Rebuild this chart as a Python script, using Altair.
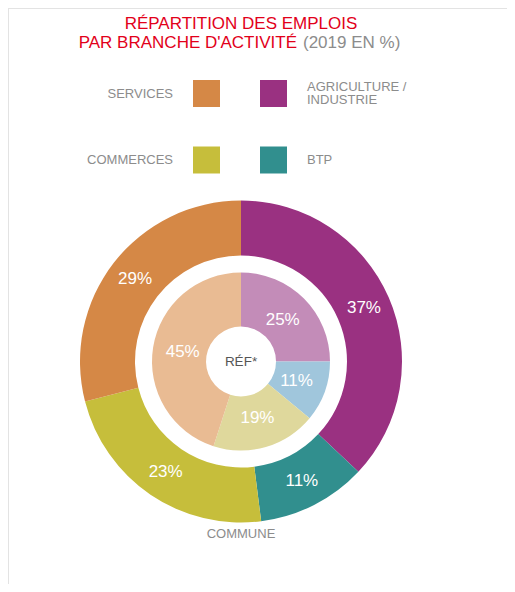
import altair as alt
import pandas as pd

# ---- data ----
categories = ["AGRICULTURE / INDUSTRIE", "BTP", "COMMERCES", "SERVICES"]
commune_values = [37, 11, 23, 29]      # outer ring
ref_values = [25, 11, 19, 45]          # inner ring (RÉF*)
outer_colors = ["#9A3181", "#318F8E", "#C6BE3B", "#D58846"]
inner_colors = ["#C38CB8", "#A0C6DC", "#DFD89C", "#E9BB93"]
legend_labels = ["AGRICULTURE /\nINDUSTRIE", "BTP", "COMMERCES", "SERVICES"]

W, H = 499, 576
CX, CY = 233, 353.5
FONT = "Liberation Sans"

outer_df = pd.DataFrame({"cat": categories, "value": commune_values,
                         "idx": range(len(categories))})
outer_df["label"] = outer_df["value"].astype(str) + "%"
inner_df = pd.DataFrame({"cat": categories, "value": ref_values,
                         "idx": range(len(categories))})
inner_df["label"] = inner_df["value"].astype(str) + "%"

outer_scale = alt.Scale(domain=categories, range=outer_colors)
inner_scale = alt.Scale(domain=categories, range=inner_colors)

base_enc = dict(x=alt.value(CX), y=alt.value(CY))

outer_arc = alt.Chart(outer_df).mark_arc(outerRadius=161, innerRadius=106).encode(
    theta=alt.Theta("value:Q", stack=True),
    color=alt.Color("cat:N", scale=outer_scale, legend=None),
    order=alt.Order("idx:Q"),
    **base_enc,
)
outer_text = alt.Chart(outer_df).mark_text(
    radius=134, font=FONT, fontSize=17, color="white"
).encode(
    theta=alt.Theta("value:Q", stack=True),
    order=alt.Order("idx:Q"),
    text="label:N",
    **base_enc,
)
inner_arc = alt.Chart(inner_df).mark_arc(outerRadius=89, innerRadius=35).encode(
    theta=alt.Theta("value:Q", stack=True),
    color=alt.Color("cat:N", scale=inner_scale, legend=None),
    order=alt.Order("idx:Q"),
    **base_enc,
)
inner_text = alt.Chart(inner_df).mark_text(
    radius=59, font=FONT, fontSize=17, color="white"
).encode(
    theta=alt.Theta("value:Q", stack=True),
    order=alt.Order("idx:Q"),
    text="label:N",
    **base_enc,
)

one = pd.DataFrame({"a": [0]})

def txt(text, x, y, size, color, align="center", baseline="alphabetic", lb=None):
    kw = dict(font=FONT, fontSize=size, color=color, align=align, baseline=baseline)
    if lb:
        kw["lineBreak"] = lb
        kw["lineHeight"] = 13.5
    return alt.Chart(one).mark_text(**kw).encode(
        x=alt.value(x), y=alt.value(y), text=alt.value(text))

RED = "#E2001A"
GREY = "#8C8C8C"

title1 = txt("RÉPARTITION DES EMPLOIS", CX, 21, 17, RED)
title2a = txt("PAR BRANCHE D'ACTIVITÉ", 289, 40, 17, RED, align="right")
title2b = txt("(2019 EN %)", 295, 40, 17, GREY, align="left")

# legend (manual, 2x2): swatch x, swatch y, label x, label y, align
legend_pos = {
    "AGRICULTURE / INDUSTRIE": (265.5, 85.5, 299, 78.5, "left"),
    "BTP": (265.5, 152, 299, 152, "left"),
    "COMMERCES": (198.5, 152, 165, 152, "right"),
    "SERVICES": (198.5, 85.5, 165, 85.5, "right"),
}
legend_layers = []
for cat, col, lab in zip(categories, outer_colors, legend_labels):
    sx, sy, tx, ty, al = legend_pos[cat]
    legend_layers.append(
        alt.Chart(one).mark_square(size=27 * 27, opacity=1, color=col).encode(
            x=alt.value(sx), y=alt.value(sy))
    )
    legend_layers.append(txt(lab, tx, ty, 13, GREY, align=al, baseline="middle",
                             lb="\n" if "\n" in lab else None))

ref_label = txt("RÉF*", CX, CY, 13.5, "#555555", baseline="middle")
commune_label = txt("COMMUNE", CX, 526, 13, GREY, baseline="middle")

border_top = alt.Chart(one).mark_rule(color="#E3E3E3", strokeWidth=2).encode(
    x=alt.value(0), x2=alt.value(W), y=alt.value(0))
border_left = alt.Chart(one).mark_rule(color="#E3E3E3", strokeWidth=2).encode(
    x=alt.value(0), y=alt.value(0), y2=alt.value(H))

chart = alt.layer(
    border_top, border_left,
    outer_arc, inner_arc, outer_text, inner_text,
    title1, title2a, title2b, *legend_layers, ref_label, commune_label,
).resolve_scale(color="independent", theta="independent").properties(
    width=W, height=H, padding=0, autosize=alt.AutoSizeParams(type="none"),
    background="white",
).configure_view(stroke=None)

chart.save("out.html", embed_options={"renderer": "svg", "actions": False})
